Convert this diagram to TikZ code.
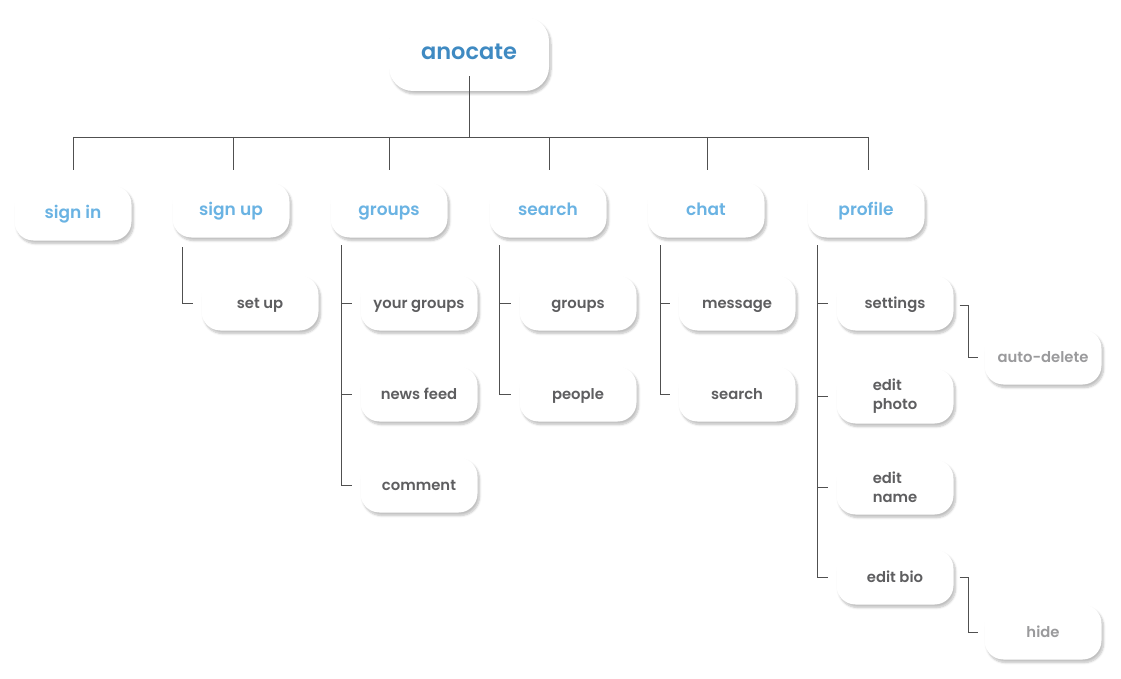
\documentclass[tikz,border=0pt]{standalone}
\usepackage{fontspec}
\setmainfont{Poppins}[BoldFont={Poppins SemiBold}]
\usetikzlibrary{shadows.blur}
\definecolor{rootblue}{HTML}{3F8AC2}
\definecolor{topblue}{HTML}{6AB3E3}
\definecolor{leafgray}{HTML}{5E5E60}
\definecolor{palegray}{HTML}{9A9A9C}
\definecolor{wire}{HTML}{505050}
\tikzset{
  card/.style={fill=white, rounded corners=19pt, minimum width=117pt,
    minimum height=55pt, inner sep=0pt, font=\bfseries,
    text height=1.9ex, text depth=0pt,
    blur shadow={shadow xshift=2pt, shadow yshift=-3pt, shadow blur steps=6, shadow opacity=25}},
  topcard/.style={card, text=topblue, font=\fontsize{17}{19}\selectfont\bfseries},
  leafcard/.style={card, text=leafgray, font=\fontsize{14.8}{19}\selectfont\bfseries},
  palecard/.style={card, text=palegray, font=\fontsize{14.8}{19}\selectfont\bfseries},
  link/.style={draw=wire, line width=0.9pt}
}
\begin{document}
\begin{tikzpicture}[x=1pt,y=-1pt]
  \useasboundingbox (0,0) rectangle (1121,679);
  % root
  \node[card, minimum width=160pt, minimum height=74pt, rounded corners=24pt,
    text=rootblue, font=\fontsize{22.5}{24}\selectfont\bfseries] (root) at (469,54) {anocate};
  % first level
  \node[topcard] (signin)  at (73,213)  {sign in};
  \node[topcard] (signup)  at (231,210) {sign up};
  \node[topcard] (groups)  at (389,210) {groups};
  \node[topcard] (search)  at (548,210) {search};
  \node[topcard] (chat)    at (706,210) {chat};
  \node[topcard] (profile) at (866,210) {profile};
  % second level
  \node[leafcard] (setup)    at (260,303) {set up};
  \node[leafcard] (yourgrp)  at (419,303) {your groups};
  \node[leafcard] (newsfeed) at (419,394) {news feed};
  \node[leafcard] (comment)  at (419,485) {comment};
  \node[leafcard] (sgroups)  at (578,303) {groups};
  \node[leafcard] (people)   at (578,394) {people};
  \node[leafcard] (message)  at (737,303) {message};
  \node[leafcard] (csearch)  at (737,394) {search};
  \node[leafcard] (settings) at (895,303) {settings};
  \node[leafcard, align=left, text height=, text depth=] (editphoto) at (895,396) {edit\\photo};
  \node[leafcard, align=left, text height=, text depth=] (editname)  at (895,487) {edit\\name};
  \node[leafcard] (editbio)  at (895,577) {edit bio};
  % third level
  \node[palecard] (autodel) at (1043,357) {auto-delete};
  \node[palecard] (hide)    at (1043,632) {hide};
  % bus
  \coordinate (bus) at (469,137);
  \draw[link] ([yshift=15pt]root.south) -- (bus);
  \draw[link] (73,137) -- (868,137);
  \foreach \x in {73, 233, 389, 549, 707, 868}
    \draw[link] (\x,137) -- (\x,170);
  % spines
  \coordinate (uspine) at (182,247);
  \coordinate (gspine) at (341,245);
  \coordinate (sspine) at (499,245);
  \coordinate (cspine) at (660,245);
  \coordinate (pspine) at (817,245);
  \draw[link] (uspine) |- ([xshift=-8pt]setup.west);
  \draw[link] (gspine) |- ([xshift=-8pt]comment.west);
  \foreach \n in {yourgrp, newsfeed}
    \draw[link] (gspine |- \n.west) -- ([xshift=-8pt]\n.west);
  \draw[link] (sspine) |- ([xshift=-8pt]people.west);
  \draw[link] (sspine |- sgroups.west) -- ([xshift=-8pt]sgroups.west);
  \draw[link] (cspine) |- ([xshift=-8pt]csearch.west);
  \draw[link] (cspine |- message.west) -- ([xshift=-8pt]message.west);
  \draw[link] (pspine) |- ([xshift=-8pt]editbio.west);
  \foreach \n in {settings, editphoto, editname}
    \draw[link] (pspine |- \n.west) -- ([xshift=-8pt]\n.west);
  \draw[link] ([xshift=6pt,yshift=-2pt]settings.east) -| (968,357) -- ([xshift=-6pt]autodel.west);
  \draw[link] ([xshift=6pt]editbio.east) -| (968,632) -- ([xshift=-6pt]hide.west);
\end{tikzpicture}
\end{document}
